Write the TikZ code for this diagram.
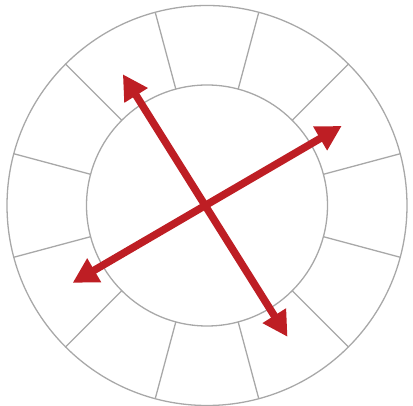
\documentclass[tikz,border=0pt]{standalone}
\usetikzlibrary{arrows.meta,calc}
\definecolor{ringgray}{RGB}{168,168,168}
\definecolor{arrowred}{RGB}{190,30,36}
\begin{document}
\begin{tikzpicture}[x=1pt, y=1pt,
        ring/.style={draw=ringgray, line width=1.3pt},
        axis/.style={draw=arrowred, line width=7.5pt,
                     {Triangle[length=25pt,width=26pt]}-{Triangle[length=25pt,width=26pt]}}]
        \useasboundingbox (-207,-200.5) rectangle (206,205.5);
        \coordinate (c) at (0,0);
        \draw[ring] (c) circle (200);
        \draw[ring] (c) circle (120.5);
        \foreach \a in {15,45,...,345}
            \draw[ring] (\a:120.5) -- (\a:200);
        % arrows cross a little off the centre
        \coordinate (x) at (-1.5,2.5);
        \coordinate (nw) at ($(x)+(122.7:153)$);
        \coordinate (se) at ($(x)+(-58.5:157)$);
        \coordinate (ne) at ($(x)+(29.5:156.5)$);
        \coordinate (sw) at ($(x)+(211:155)$);
        \draw[axis] (nw) -- (se);
        \draw[axis] (ne) -- (sw);
    \end{tikzpicture}
\end{document}
